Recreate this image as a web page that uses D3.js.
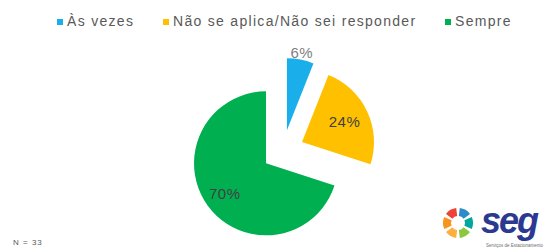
<!DOCTYPE html>
<html>
<head>
<meta charset="utf-8">
<script src="https://cdn.jsdelivr.net/npm/d3@7"></script>
<style>
  body { margin: 0; background: #fff; }
  svg { display: block; font-family: "Liberation Sans", Arial, sans-serif; }
</style>
</head>
<body>
<div id="chart"></div>
<script>
/* Data. */
const categories = ["Às vezes", "Não se aplica/Não sei responder", "Sempre"]
const values = [6, 24, 70]
const colors = ["#1AAEEB", "#FFC000", "#00B050"]
const labelColors = ["#7F7F7F", "#404040", "#404040"]

/* Size. */
const width = 545
const height = 248

const svg = d3.select("#chart")
  .append("svg")
  .attr("width", width)
  .attr("height", height)

/* Pie geometry. */
const cx = 283
const cy = 151
const radius = 72
const explode = 21

const pie = d3.pie().sort(null).value(d => d)
const arcs = pie(values)

const arc = d3.arc().innerRadius(0).outerRadius(radius)

const g = svg.append("g")
  .attr("transform", `translate(${cx},${cy})`)

const offset = (d, k) => {
  const a = (d.startAngle + d.endAngle) / 2
  return [Math.sin(a) * k, -Math.cos(a) * k]
}

g.selectAll("path")
  .data(arcs)
  .enter()
  .append("path")
  .attr("d", arc)
  .attr("fill", (d, i) => colors[i])
  .attr("transform", d => `translate(${offset(d, explode)})`)

/* Data labels. */
const labelRadius = [100, 68, 72]
g.selectAll("text.lbl")
  .data(arcs)
  .enter()
  .append("text")
  .attr("class", "lbl")
  .attr("x", (d, i) => offset(d, labelRadius[i])[0])
  .attr("y", (d, i) => offset(d, labelRadius[i])[1])
  .attr("dy", "0.35em")
  .attr("text-anchor", "middle")
  .attr("font-size", 15)
  .attr("letter-spacing", 0.5)
  .attr("fill", (d, i) => labelColors[i])
  .text(d => `${d.data}%`)

/* Legend. */
const legendX = [57, 163, 445]
const legend = svg.append("g")
legend.selectAll("rect")
  .data(categories)
  .enter()
  .append("rect")
  .attr("x", (d, i) => legendX[i])
  .attr("y", 19)
  .attr("width", 6)
  .attr("height", 6)
  .attr("fill", (d, i) => colors[i])

legend.selectAll("text")
  .data(categories)
  .enter()
  .append("text")
  .attr("x", (d, i) => legendX[i] + 10)
  .attr("y", 26)
  .attr("font-size", 14)
  .attr("letter-spacing", 1.3)
  .attr("fill", "#595959")
  .text(d => d)

/* N note. */
svg.append("text")
  .attr("x", 13)
  .attr("y", 245)
  .attr("font-size", 8)
  .attr("letter-spacing", 1)
  .attr("fill", "#595959")
  .text("N = 33")

/* Logo. */
const logo = svg.append("g").attr("transform", "translate(458,223)")
const petals = ["#2E8BC9", "#00A79D", "#8DC63F", "#FBB040", "#F7941D", "#EF4136"]
const petalArc = d3.arc().innerRadius(7).outerRadius(15)
logo.selectAll("path")
  .data(petals)
  .enter()
  .append("path")
  .attr("d", (d, i) => petalArc({ startAngle: i * Math.PI / 3 + 0.12, endAngle: (i + 1) * Math.PI / 3 - 0.12 }))
  .attr("fill", d => d)

svg.append("text")
  .attr("x", 481)
  .attr("y", 233)
  .attr("font-size", 36)
  .attr("font-weight", "bold")
  .attr("font-style", "italic")
  .attr("fill", "#2B3990")
  .attr("letter-spacing", -2)
  .text("seg")

svg.append("text")
  .attr("x", 543)
  .attr("y", 247)
  .attr("text-anchor", "end")
  .attr("font-size", 4.5)
  .attr("fill", "#6D6E71")
  .text("Serviços de Estacionamento")
</script>
</body>
</html>
